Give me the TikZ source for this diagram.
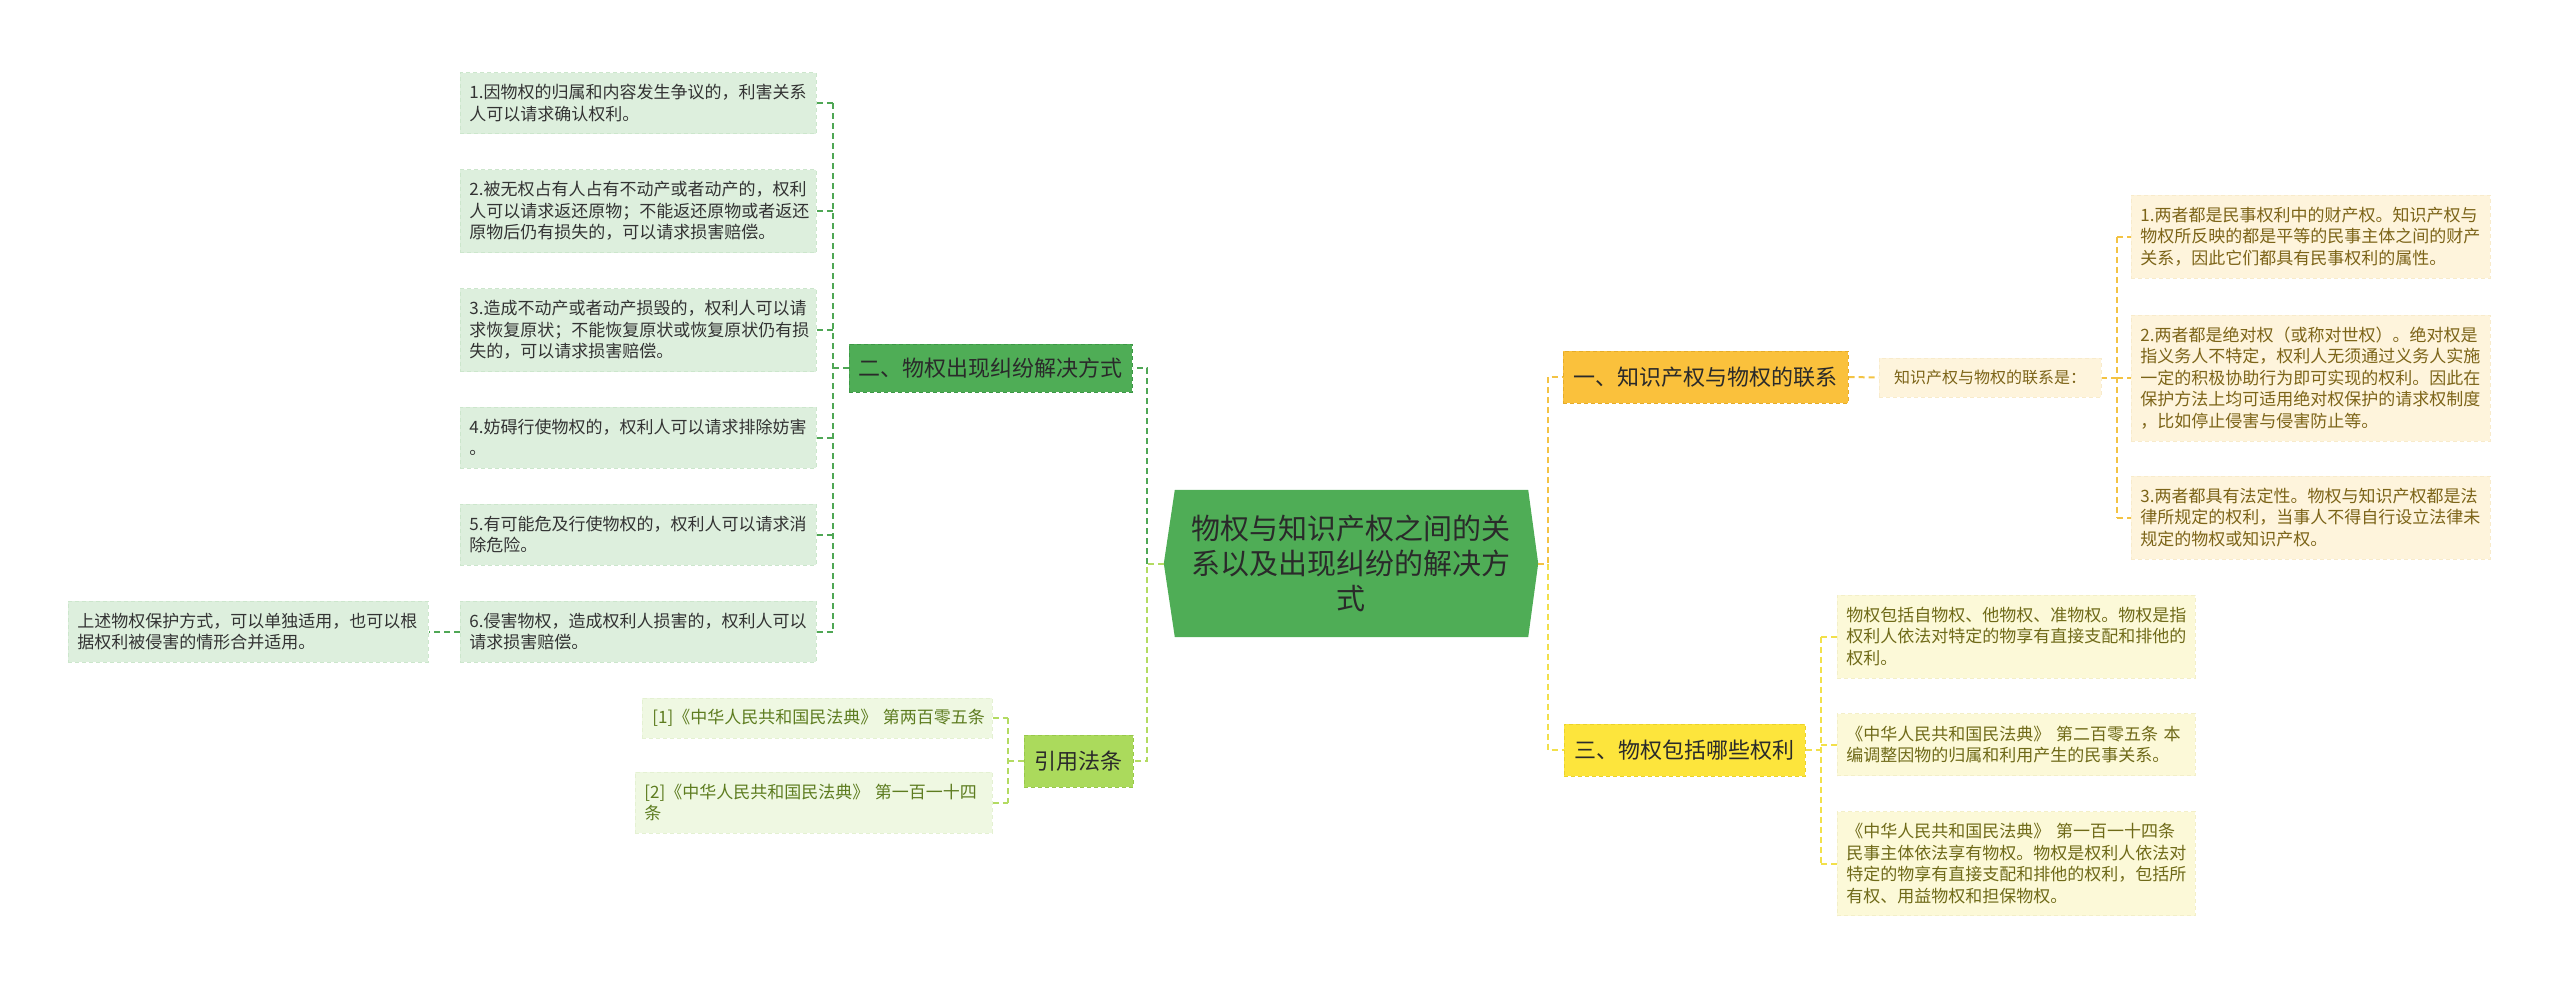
\documentclass[tikz,border=0pt]{standalone}
\usepackage{fontspec}
\setmainfont{Noto Sans CJK SC}
\usetikzlibrary{backgrounds}
\definecolor{cgreen}{HTML}{4FAD56}
\definecolor{cgreenbd}{HTML}{3D9846}
\definecolor{cgreenln}{HTML}{4FA755}
\definecolor{lgfill}{HTML}{DDEFDD}
\definecolor{lgbd}{HTML}{CCE6CC}
\definecolor{dtext}{HTML}{333333}
\definecolor{maintext}{HTML}{2A2A2A}
\definecolor{ygfill}{HTML}{ABDA5C}
\definecolor{ygbd}{HTML}{98C84A}
\definecolor{ygln}{HTML}{B3DB62}
\definecolor{citfill}{HTML}{EFF8E2}
\definecolor{citbd}{HTML}{E4F1D2}
\definecolor{cittext}{HTML}{5D7C1F}
\definecolor{goldfill}{HTML}{FAC13C}
\definecolor{goldbd}{HTML}{E6AC28}
\definecolor{goldln}{HTML}{F3C343}
\definecolor{creamfill}{HTML}{FEF4DC}
\definecolor{creambd}{HTML}{F8EBCB}
\definecolor{creamtext}{HTML}{7C6418}
\definecolor{yelfill}{HTML}{FDE53C}
\definecolor{yelbd}{HTML}{EBD22A}
\definecolor{yelln}{HTML}{F2E04A}
\definecolor{lyfill}{HTML}{FCF9D8}
\definecolor{lybd}{HTML}{F3EFC8}
\definecolor{lytext}{HTML}{6F6A18}
\newcommand\fsz[2]{\fontsize{#1}{#2}\selectfont}
\tikzset{
  leaf/.style={anchor=west, align=left, inner xsep=9pt, inner ysep=0pt,
    dash pattern=on 4pt off 3pt, line width=0.8pt, font=\fsz{17}{21.5}},
  greenleaf/.style={leaf, fill=lgfill, draw=lgbd, text=dtext},
  citleaf/.style={leaf, fill=citfill, draw=citbd, text=cittext},
  creamleaf/.style={leaf, fill=creamfill, draw=creambd, text=creamtext},
  yelleaf/.style={leaf, fill=lyfill, draw=lybd, text=lytext},
  mainbox/.style={inner sep=0pt, font=\fsz{22}{26}, text=maintext,
    dash pattern=on 4pt off 3pt, line width=1pt},
  conn/.style={line width=2pt, dash pattern=on 6pt off 4pt}
}
\begin{document}
\begin{tikzpicture}[x=1pt,y=-1pt]
\useasboundingbox (0,0) rectangle (2560,989);
% central
\node[font=\fsz{29}{35}, align=center, text=maintext, minimum width=374pt,
  minimum height=147pt, inner sep=0pt] (root) at (1351,563.5)
  {物权与知识产权之间的关\\系以及出现纠纷的解决方\\式};
% level-1 nodes
\node[mainbox, fill=cgreen, draw=cgreenbd, minimum width=283pt, minimum height=48pt] (n2) at (990.5,368) {二、物权出现纠纷解决方式};
\node[mainbox, fill=ygfill, draw=ygbd, minimum width=109pt, minimum height=52pt] (n4) at (1078.5,761) {引用法条};
\node[mainbox, fill=goldfill, draw=goldbd, minimum width=285pt, minimum height=52pt] (n1) at (1705.5,377) {一、知识产权与物权的联系};
\node[mainbox, fill=yelfill, draw=yelbd, minimum width=241pt, minimum height=52pt] (n3) at (1684.5,750) {三、物权包括哪些权利};
\node[mainbox, font=\fsz{16}{20}, text=creamtext, fill=creamfill, draw=creambd, line width=0.8pt, minimum width=222pt, minimum height=39pt] (n1c) at (1990,377.5) {知识产权与物权的联系是：};
% left leaves
\node[greenleaf, text width=338pt, minimum height=61pt] (L1) at (460,103) {1.因物权的归属和内容发生争议的，利害关系\\人可以请求确认权利。};
\node[greenleaf, text width=338pt, minimum height=83pt] (L2) at (460,211) {2.被无权占有人占有不动产或者动产的，权利\\人可以请求返还原物；不能返还原物或者返还\\原物后仍有损失的，可以请求损害赔偿。};
\node[greenleaf, text width=338pt, minimum height=83pt] (L3) at (460,330) {3.造成不动产或者动产损毁的，权利人可以请\\求恢复原状；不能恢复原状或恢复原状仍有损\\失的，可以请求损害赔偿。};
\node[greenleaf, text width=338pt, minimum height=61pt] (L4) at (460,437.5) {4.妨碍行使物权的，权利人可以请求排除妨害\\。};
\node[greenleaf, text width=338pt, minimum height=61pt] (L5) at (460,534.5) {5.有可能危及行使物权的，权利人可以请求消\\除危险。};
\node[greenleaf, text width=338pt, minimum height=61pt] (L6) at (460,631.5) {6.侵害物权，造成权利人损害的，权利人可以\\请求损害赔偿。};
\node[greenleaf, text width=342pt, minimum height=61pt] (L6c) at (68,631.5) {上述物权保护方式，可以单独适用，也可以根\\据权利被侵害的情形合并适用。};
% citations
\node[citleaf, inner xsep=10pt, text width=330pt, minimum height=40pt] (C1) at (642,718) {\mbox{[1]《中华人民共和国民法典》~第两百零五条}};
\node[citleaf, text width=339pt, minimum height=61pt] (C2) at (635,802.5) {\mbox{[2]《中华人民共和国民法典》~第一百一十四}\\条};
% right leaves (group 1)
\node[creamleaf, text width=341pt, minimum height=83pt] (R1) at (2131,236.5) {1.两者都是民事权利中的财产权。知识产权与\\物权所反映的都是平等的民事主体之间的财产\\关系，因此它们都具有民事权利的属性。};
\node[creamleaf, text width=341pt, minimum height=126pt] (R2) at (2131,378) {2.两者都是绝对权（或称对世权）。绝对权是\\指义务人不特定，权利人无须通过义务人实施\\一定的积极协助行为即可实现的权利。因此在\\保护方法上均可适用绝对权保护的请求权制度\\，比如停止侵害与侵害防止等。};
\node[creamleaf, text width=341pt, minimum height=83pt] (R3) at (2131,517.5) {3.两者都具有法定性。物权与知识产权都是法\\律所规定的权利，当事人不得自行设立法律未\\规定的物权或知识产权。};
% right leaves (group 3)
\node[yelleaf, text width=340pt, minimum height=83pt] (Y1) at (1837,636.5) {物权包括自物权、他物权、准物权。物权是指\\权利人依法对特定的物享有直接支配和排他的\\权利。};
\node[yelleaf, text width=340pt, minimum height=62pt] (Y2) at (1837,744.5) {\mbox{《中华人民共和国民法典》~第二百零五条~本}\\编调整因物的归属和利用产生的民事关系。};
\node[yelleaf, text width=340pt, minimum height=104pt] (Y3) at (1837,863.5) {\mbox{《中华人民共和国民法典》~第一百一十四条}\\民事主体依法享有物权。物权是权利人依法对\\特定的物享有直接支配和排他的权利，包括所\\有权、用益物权和担保物权。};
% junction coordinates
\coordinate (jl) at (1147,563.5);
\coordinate (jr) at (1548,563.5);
\coordinate (vl) at (833,0);
\coordinate (vc) at (1008,0);
\coordinate (vr) at (2117,0);
\coordinate (vy) at (1821,0);
\begin{scope}[on background layer]
\fill[cgreen] ([xshift=11pt]root.north west) -- (root.west) -- ([xshift=11pt]root.south west)
  -- ([xshift=-10pt]root.south east) -- (root.east) -- ([xshift=-10pt]root.north east) -- cycle;
% centre to level 1
\draw[conn, cgreenln] (jl) |- (n2.east);
\draw[conn, ygln] (root.west) -- (jl) |- (n4.east);
\draw[conn, goldln] (root.east) -- (jr) |- (n1.west);
\draw[conn, yelln] (jr) |- (n3.west);
% group 2 (left)
\draw[conn, cgreenln] (n2.west) -- (n2.west -| vl);
\draw[conn, cgreenln] (L1.east -| vl) -- (L6.east -| vl);
\foreach \n in {L1,L2,L3,L4,L5,L6}{\draw[conn, cgreenln] (\n.east) -- (\n.east -| vl);}
\draw[conn, cgreenln] (L6.west) -- (L6c.east);
% citations
\draw[conn, ygln] (n4.west) -- (n4.west -| vc);
\draw[conn, ygln] (C1.east -| vc) -- (C2.east -| vc);
\foreach \n in {C1,C2}{\draw[conn, ygln] (\n.east) -- (\n.east -| vc);}
% group 1
\draw[conn, goldln] (n1.east) -- (n1c.west);
\draw[conn, goldln] (n1c.east) -- (n1c.east -| vr);
\draw[conn, goldln] (R1.west -| vr) -- (R3.west -| vr);
\foreach \n in {R1,R2,R3}{\draw[conn, goldln] (\n.west -| vr) -- (\n.west);}
% group 3
\draw[conn, yelln] (n3.east) -- (n3.east -| vy);
\draw[conn, yelln] (Y1.west -| vy) -- (Y3.west -| vy);
\foreach \n in {Y1,Y2,Y3}{\draw[conn, yelln] (\n.west -| vy) -- (\n.west);}
\end{scope}
\end{tikzpicture}
\end{document}
